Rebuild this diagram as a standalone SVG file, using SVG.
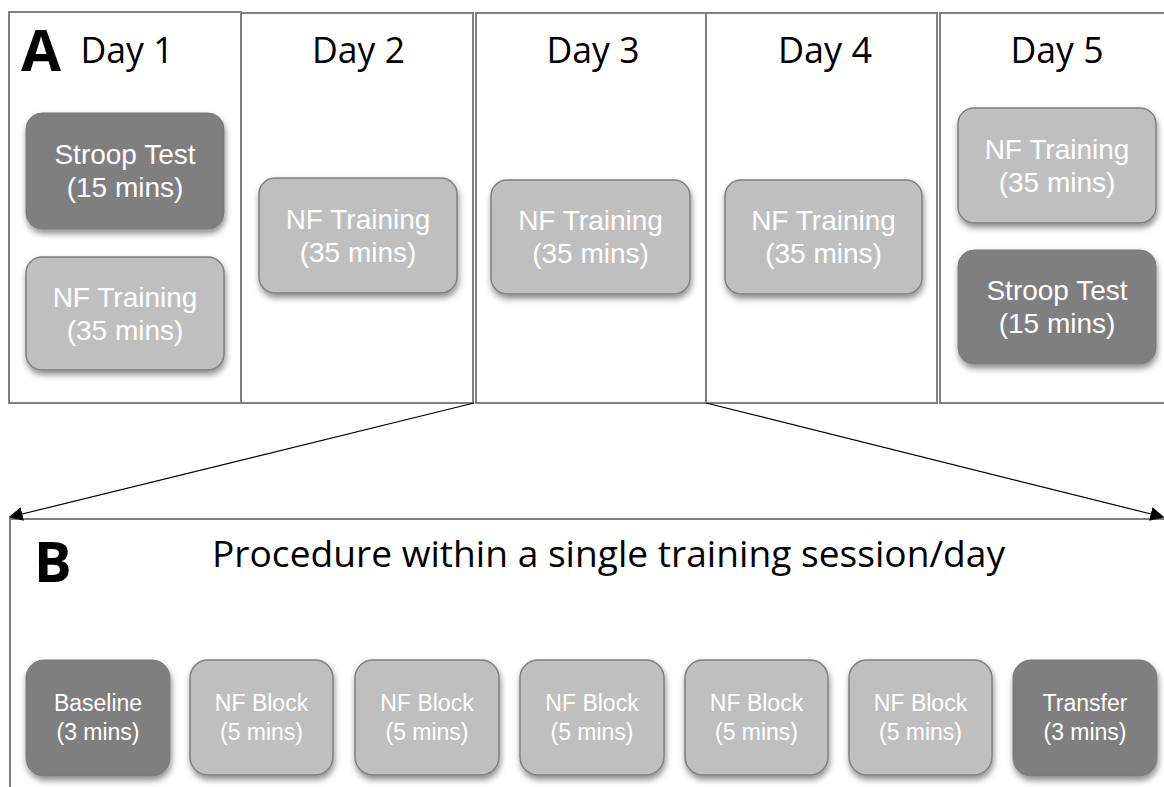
<svg xmlns="http://www.w3.org/2000/svg" width="1164" height="787" viewBox="0 0 1164 787">
<defs>
<style>
.panel{fill:#ffffff;stroke:#808080;stroke-width:2}
.dark{fill:#7f7f7f;stroke:#7a7a7a;stroke-width:1}
.light{fill:#bfbfbf;stroke:#7f7f7f;stroke-width:1.5}
.nt{font-family:"Liberation Sans",Arial,sans-serif;fill:#ffffff;text-anchor:middle}
.big{font-size:28px}
.small{font-size:23px}
.head{font-family:"Open Sans","Noto Sans",sans-serif;font-size:36px;fill:#000000}
.day{text-anchor:middle}
.lbl{font-family:"Open Sans","Noto Sans",sans-serif;font-weight:bold;fill:#000000}
.conn{stroke:#000000;stroke-width:1.2;fill:none}
</style>
<filter id="sh" x="-10%" y="-10%" width="130%" height="140%">
<feDropShadow dx="1" dy="4" stdDeviation="3" flood-color="#000000" flood-opacity="0.45"/>
</filter>
<marker id="ah" viewBox="0 0 10 10" refX="9" refY="5" markerWidth="14" markerHeight="14" markerUnits="userSpaceOnUse" orient="auto">
<path d="M0,0 L10,5 L0,10 z" fill="#000000"/>
</marker>
</defs>
<rect width="1164" height="787" fill="#ffffff"/>

<g id="panelA">
<rect class="panel" x="9" y="12" width="232" height="391"/>
<rect class="panel" x="241" y="13" width="232" height="390"/>
<rect class="panel" x="476" y="13" width="230" height="390"/>
<rect class="panel" x="706" y="13" width="231" height="390"/>
<rect class="panel" x="940" y="13" width="232" height="390"/>
<text class="lbl" x="21" y="71" font-size="58">A</text>
<text class="head day" x="127" y="63" textLength="93" lengthAdjust="spacingAndGlyphs">Day 1</text>
<text class="head day" x="358.5" y="63" textLength="93" lengthAdjust="spacingAndGlyphs">Day 2</text>
<text class="head day" x="593" y="63" textLength="93" lengthAdjust="spacingAndGlyphs">Day 3</text>
<text class="head day" x="825" y="63" textLength="94" lengthAdjust="spacingAndGlyphs">Day 4</text>
<text class="head day" x="1057" y="63" textLength="93" lengthAdjust="spacingAndGlyphs">Day 5</text>
</g>

<g id="d1-stroop">
<rect class="dark" x="26" y="113" width="198" height="116" rx="16" filter="url(#sh)"/>
<text class="nt big" x="125" y="164">Stroop Test</text>
<text class="nt big" x="125" y="197">(15 mins)</text>
</g>
<g id="d1-nf">
<rect class="light" x="26" y="257" width="198" height="113" rx="16" filter="url(#sh)"/>
<text class="nt big" x="125" y="307">NF Training</text>
<text class="nt big" x="125" y="340">(35 mins)</text>
</g>
<g id="d2-nf">
<rect class="light" x="259" y="178" width="198" height="115" rx="16" filter="url(#sh)"/>
<text class="nt big" x="358" y="229">NF Training</text>
<text class="nt big" x="358" y="262">(35 mins)</text>
</g>
<g id="d3-nf">
<rect class="light" x="491" y="180" width="199" height="114" rx="16" filter="url(#sh)"/>
<text class="nt big" x="590.5" y="230">NF Training</text>
<text class="nt big" x="590.5" y="263">(35 mins)</text>
</g>
<g id="d4-nf">
<rect class="light" x="725" y="180" width="197" height="114" rx="16" filter="url(#sh)"/>
<text class="nt big" x="823.5" y="230">NF Training</text>
<text class="nt big" x="823.5" y="263">(35 mins)</text>
</g>
<g id="d5-nf">
<rect class="light" x="958" y="108" width="198" height="115" rx="16" filter="url(#sh)"/>
<text class="nt big" x="1057" y="159">NF Training</text>
<text class="nt big" x="1057" y="192">(35 mins)</text>
</g>
<g id="d5-stroop">
<rect class="dark" x="958" y="250" width="198" height="114" rx="16" filter="url(#sh)"/>
<text class="nt big" x="1057" y="300">Stroop Test</text>
<text class="nt big" x="1057" y="333">(15 mins)</text>
</g>

<g id="panelB">
<path d="M10,787 V519 H1164" fill="none" stroke="#808080" stroke-width="2"/>
<text class="lbl" x="34" y="582" font-size="56">B</text>
<text class="head" x="212" y="567" textLength="793" lengthAdjust="spacingAndGlyphs">Procedure within a single training session/day</text>
</g>

<g id="b-baseline">
<rect class="dark" x="26" y="660" width="144" height="116" rx="18" filter="url(#sh)"/>
<text class="nt small" x="98" y="711">Baseline</text>
<text class="nt small" x="98" y="740">(3 mins)</text>
</g>
<g id="b-nf1">
<rect class="light" x="190" y="660" width="143" height="115" rx="18" filter="url(#sh)"/>
<text class="nt small" x="261.5" y="711">NF Block</text>
<text class="nt small" x="261.5" y="740">(5 mins)</text>
</g>
<g id="b-nf2">
<rect class="light" x="355" y="660" width="144" height="115" rx="18" filter="url(#sh)"/>
<text class="nt small" x="427" y="711">NF Block</text>
<text class="nt small" x="427" y="740">(5 mins)</text>
</g>
<g id="b-nf3">
<rect class="light" x="520" y="660" width="144" height="115" rx="18" filter="url(#sh)"/>
<text class="nt small" x="592" y="711">NF Block</text>
<text class="nt small" x="592" y="740">(5 mins)</text>
</g>
<g id="b-nf4">
<rect class="light" x="685" y="660" width="143" height="115" rx="18" filter="url(#sh)"/>
<text class="nt small" x="756.5" y="711">NF Block</text>
<text class="nt small" x="756.5" y="740">(5 mins)</text>
</g>
<g id="b-nf5">
<rect class="light" x="849" y="660" width="143" height="115" rx="18" filter="url(#sh)"/>
<text class="nt small" x="920.5" y="711">NF Block</text>
<text class="nt small" x="920.5" y="740">(5 mins)</text>
</g>
<g id="b-transfer">
<rect class="dark" x="1013" y="660" width="144" height="116" rx="18" filter="url(#sh)"/>
<text class="nt small" x="1085" y="711">Transfer</text>
<text class="nt small" x="1085" y="740">(3 mins)</text>
</g>

<g id="connectors">
<line class="conn" x1="474" y1="403" x2="10" y2="517" marker-end="url(#ah)"/>
<line class="conn" x1="706" y1="403" x2="1163" y2="517" marker-end="url(#ah)"/>
</g>
</svg>
